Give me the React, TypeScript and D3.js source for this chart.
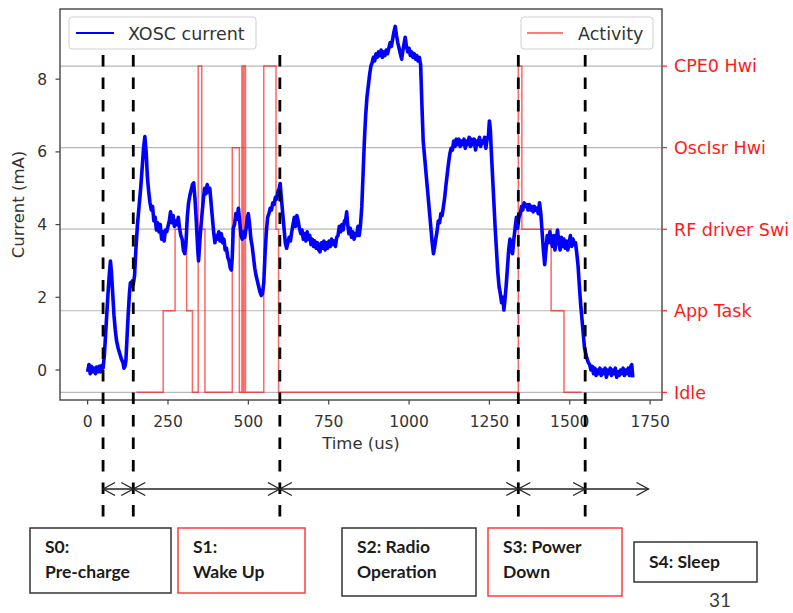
import * as d3 from 'd3';

// XOSC current trace, [time us, current mA]
const xoscTrace: [number, number][] = [
  [0, -0.05], [4, 0.15], [8, -0.1], [12, 0.1], [16, -0.05], [20, 0.05], [24, -0.1], [28, 0.08], [32, -0.05], [36, 0.1], [40, -0.05], [44, 0.12], [48, 0.05],
  [52, 0.4], [56, 1.0], [60, 1.6], [64, 2.2], [68, 2.7], [71, 3.0], [74, 2.7], [78, 2.1], [82, 1.5], [86, 1.1], [90, 0.8], [95, 0.6], [100, 0.45], [105, 0.3], [110, 0.2], [113, 0.05], [116, 0.1], [119, 0.25],
  [122, 0.8], [126, 1.5], [130, 2.1], [133, 2.4], [136, 2.3], [139, 2.45], [142, 2.35], [146, 2.6], [150, 3.3], [155, 4.0], [160, 4.5], [165, 5.0], [170, 5.6], [174, 6.1], [178, 6.42], [182, 6.0], [186, 5.3],
  [190, 4.9], [194, 4.6], [198, 4.4], [202, 4.5], [206, 4.1], [210, 4.2], [214, 3.85], [218, 4.05], [222, 3.8], [226, 4.0], [230, 3.6], [234, 3.8], [238, 3.55], [242, 3.85], [246, 3.8], [250, 3.95],
  [254, 4.1], [258, 4.35], [262, 4.05], [266, 4.25], [270, 3.95], [274, 4.1], [278, 4.0], [282, 4.2], [286, 3.9], [290, 3.7], [294, 3.6], [298, 3.3], [302, 3.2], [306, 3.5], [310, 4.2], [314, 4.6],
  [318, 4.8], [322, 4.95], [326, 5.1], [330, 5.15], [334, 4.7], [338, 4.1], [342, 3.4], [345, 3.0], [348, 3.4], [352, 3.9], [356, 4.3], [360, 4.7], [364, 5.0], [368, 4.85], [372, 5.1], [376, 4.9],
  [380, 5.0], [384, 4.6], [388, 4.2], [392, 3.8], [396, 3.5], [400, 3.7], [404, 3.6], [408, 3.8], [412, 3.55], [416, 3.75], [420, 3.5], [424, 3.6], [428, 3.3], [432, 3.35], [436, 3.1], [440, 3.0],
  [444, 2.8], [447, 2.75], [450, 3.1], [453, 3.9], [457, 4.0], [461, 4.3], [465, 4.15], [469, 4.45], [473, 4.1], [477, 3.7], [481, 3.6], [485, 3.8], [489, 3.65], [493, 3.9], [497, 4.2], [500, 4.3],
  [504, 4.0], [508, 3.6], [512, 3.4], [516, 3.1], [520, 2.8], [524, 2.6], [528, 2.45], [532, 2.3], [536, 2.15], [540, 2.05], [544, 2.1], [548, 2.4], [552, 3.2], [556, 3.8], [560, 4.2], [564, 4.3],
  [568, 4.45], [572, 4.4], [576, 4.6], [580, 4.55], [584, 4.75], [588, 4.7], [592, 4.9], [596, 5.0], [599, 5.13], [603, 4.7], [607, 4.3], [611, 3.9], [615, 3.5], [619, 3.35], [623, 3.5], [627, 3.65],
  [631, 3.55], [635, 3.8], [639, 4.0], [643, 4.2], [647, 3.95], [651, 4.25], [655, 4.1], [659, 3.9], [663, 3.75], [667, 3.85], [671, 3.6], [675, 3.75], [679, 3.55], [683, 3.8], [687, 3.6], [691, 3.7],
  [695, 3.45], [699, 3.6], [703, 3.4], [707, 3.55], [711, 3.35], [715, 3.5], [719, 3.3], [723, 3.25], [727, 3.5], [731, 3.35], [735, 3.55], [739, 3.3], [743, 3.5], [747, 3.35], [751, 3.55], [755, 3.4],
  [759, 3.6], [763, 3.45], [767, 3.55], [771, 3.4], [775, 3.65], [779, 3.7], [783, 3.95], [787, 3.8], [791, 4.0], [795, 3.85], [799, 4.1], [803, 4.15], [806, 4.35], [809, 4.0], [813, 3.75], [817, 3.9],
  [821, 3.65], [825, 3.8], [829, 3.6], [833, 3.75], [837, 3.7], [841, 3.95], [845, 3.7], [849, 4.0], [853, 4.5], [857, 5.4], [861, 6.3], [865, 7.0], [869, 7.5], [873, 7.8], [877, 8.1], [881, 8.35],
  [885, 8.45], [889, 8.6], [893, 8.5], [897, 8.7], [901, 8.6], [905, 8.75], [909, 8.65], [913, 8.8], [917, 8.6], [921, 8.75], [925, 8.65], [929, 8.8], [933, 8.7], [937, 8.85], [941, 9.0], [945, 8.9],
  [949, 9.1], [953, 9.3], [957, 9.45], [961, 9.2], [965, 9.0], [969, 8.85], [973, 8.7], [977, 8.55], [981, 8.8], [985, 9.0], [988, 9.15], [992, 8.9], [996, 8.75], [1000, 8.85], [1004, 8.65], [1008, 8.75],
  [1012, 8.6], [1016, 8.7], [1020, 8.55], [1024, 8.65], [1028, 8.5], [1032, 8.6], [1036, 8.4], [1040, 7.3], [1044, 6.3], [1048, 5.9], [1052, 5.5], [1056, 5.1], [1060, 4.7], [1064, 4.3], [1068, 3.9], [1072, 3.5],
  [1076, 3.2], [1079, 3.35], [1083, 3.6], [1087, 3.8], [1091, 4.1], [1095, 4.05], [1099, 4.3], [1103, 4.25], [1107, 4.5], [1111, 4.75], [1115, 5.1], [1119, 5.4], [1123, 5.7], [1127, 5.95], [1131, 6.1], [1135, 6.05],
  [1139, 6.3], [1143, 6.15], [1147, 6.35], [1151, 6.2], [1155, 6.35], [1159, 6.15], [1163, 6.3], [1167, 6.2], [1171, 6.35], [1175, 6.1], [1179, 6.3], [1183, 6.2], [1187, 6.4], [1191, 6.15], [1195, 6.35], [1199, 6.2],
  [1203, 6.35], [1207, 6.05], [1211, 6.3], [1215, 6.2], [1219, 6.4], [1223, 6.15], [1227, 6.3], [1231, 6.25], [1235, 6.4], [1239, 6.1], [1243, 6.35], [1247, 6.45], [1250, 6.85], [1253, 6.6], [1256, 6.0], [1260, 5.3],
  [1264, 4.6], [1268, 3.9], [1272, 3.3], [1276, 2.7], [1280, 2.3], [1284, 2.1], [1288, 1.85], [1292, 2.0], [1295, 1.65], [1298, 1.9], [1302, 2.3], [1306, 2.8], [1310, 3.3], [1314, 3.6], [1318, 3.3], [1322, 3.2],
  [1326, 3.6], [1330, 3.9], [1334, 4.2], [1338, 3.9], [1342, 4.2], [1346, 4.3], [1350, 4.5], [1354, 4.4], [1358, 4.6], [1362, 4.5], [1366, 4.55], [1370, 4.4], [1374, 4.55], [1378, 4.4], [1382, 4.5], [1386, 4.35],
  [1390, 4.5], [1394, 4.4], [1398, 4.45], [1402, 4.3], [1406, 4.6], [1410, 4.3], [1414, 3.8], [1418, 3.3], [1422, 2.9], [1426, 3.3], [1430, 3.7], [1434, 3.5], [1438, 3.8], [1442, 3.6], [1446, 3.4], [1450, 3.7],
  [1454, 3.3], [1458, 3.6], [1462, 3.85], [1466, 3.5], [1470, 3.3], [1474, 3.65], [1478, 3.4], [1482, 3.6], [1486, 3.35], [1490, 3.55], [1494, 3.3], [1498, 3.5], [1502, 3.7], [1506, 3.4], [1510, 3.6], [1514, 3.45],
  [1518, 3.5], [1522, 3.2], [1526, 2.85], [1530, 2.3], [1534, 1.8], [1538, 1.4], [1542, 1.0], [1546, 0.6], [1550, 0.45], [1554, 0.3], [1558, 0.2], [1562, 0.15], [1566, 0.0], [1570, 0.1], [1574, -0.1], [1578, 0.05],
  [1582, -0.15], [1586, 0.0], [1590, -0.1], [1594, 0.05], [1598, -0.15], [1602, 0.0], [1606, -0.1], [1610, 0.05], [1614, -0.2], [1618, 0.0], [1622, -0.1], [1626, 0.05], [1630, -0.15], [1634, 0.0], [1638, -0.1], [1642, 0.05],
  [1646, -0.2], [1650, -0.05], [1654, -0.15], [1658, 0.0], [1662, -0.1], [1666, 0.05], [1670, -0.15], [1674, 0.0], [1678, -0.1], [1682, 0.05], [1686, -0.15], [1690, 0.1], [1693, 0.15], [1696, -0.2],
];

// Activity step trace, [time us, level index]
const activitySteps: [number, number][] = [
  [152, 0], [235, 1], [272, 2], [308, 1], [326, 0], [344, 4], [355, 2], [365, 0], [450, 3], [472, 0],
  [480, 4], [484, 0], [486, 4], [491, 0], [548, 4], [586, 2], [594, 0], [1340, 4], [1351, 2], [1442, 1],
  [1482, 0], [1537, 0],
];

const activityLevels = ['Idle', 'App Task', 'RF driver Swi', 'OscIsr Hwi', 'CPE0 Hwi'];
const xTicks = [0, 250, 500, 750, 1000, 1250, 1500, 1750];
const yTicks = [0, 2, 4, 6, 8];

// state boundaries (us) and the phase boxes under the plot
const stateBounds = [48, 142, 598, 1340, 1548];
const sleepArrowEnd = 1745;
const stateNames = [
  ['S0:', 'Pre-charge'],
  ['S1:', 'Wake Up'],
  ['S2: Radio', 'Operation'],
  ['S3: Power', 'Down'],
  ['S4: Sleep'],
];
const stateOutline = ['#333', '#ff3b3b', '#333', '#ff3b3b', '#333'];

const W = 793;
const H = 613;
const plot = { left: 60, right: 662, top: 9, bottom: 400 };

const x = d3.scaleLinear().domain([-86, 1787]).range([plot.left, plot.right]);
const y = d3.scaleLinear().domain([-0.825, 9.93]).range([plot.bottom, plot.top]);
const yAct = d3.scaleLinear().domain([-0.094, 4.7]).range([plot.bottom, plot.top]);

const tickFont = 'DejaVu Sans, sans-serif';
const boxFont = 'Lato, Open Sans, sans-serif';

// box geometry (pixels) for each state label
const boxes = [
  { x0: 30, x1: 171, y0: 528, y1: 593 },
  { x0: 178, x1: 305, y0: 528, y1: 593 },
  { x0: 342, x1: 476, y0: 528, y1: 596 },
  { x0: 488, x1: 622, y0: 528, y1: 596 },
  { x0: 634, x1: 757, y0: 542, y1: 582 },
];

const Chevron = ({ tipX, tipY, dir }: { tipX: number; tipY: number; dir: 1 | -1 }) => (
  <path
    d={`M${tipX - dir * 12},${tipY - 6.5} L${tipX},${tipY} L${tipX - dir * 12},${tipY + 6.5}`}
    fill="none"
    stroke="#222"
    strokeWidth={1.3}
  />
);

export default function App() {
  const currentLine = d3.line<[number, number]>()
    .x(d => x(d[0]))
    .y(d => y(d[1]));

  const activityLine = d3.line<[number, number]>()
    .curve(d3.curveStepAfter)
    .x(d => x(d[0]))
    .y(d => yAct(d[1]));

  const arrowY = 489;
  const bx = stateBounds.map(b => x(b));

  return (
    <svg
      width={W}
      height={H}
      style={{ position: 'absolute', left: 0, top: 0, background: '#fff' }}
    >
      {/* grid from the activity axis */}
      {activityLevels.map((_, i) => (
        <line key={i} x1={plot.left} x2={plot.right} y1={yAct(i)} y2={yAct(i)} stroke="#b8b8b8" strokeWidth={1.2} />
      ))}

      <path d={activityLine(activitySteps) ?? ''} fill="none" stroke="#ff0000" strokeOpacity={0.6} strokeWidth={1.5} />
      <path d={currentLine(xoscTrace) ?? ''} fill="none" stroke="#0000ff" strokeWidth={3.6} strokeLinejoin="round" />

      {/* spines */}
      <rect x={plot.left} y={plot.top} width={plot.right - plot.left} height={plot.bottom - plot.top} fill="none" stroke="#444" strokeWidth={1.4} />

      {/* left axis */}
      {yTicks.map(t => (
        <g key={t}>
          <line x1={plot.left - 4.5} x2={plot.left} y1={y(t)} y2={y(t)} stroke="#444" strokeWidth={1.2} />
          <text x={plot.left - 13} y={y(t)} dy="0.36em" textAnchor="end" fontFamily={tickFont} fontSize={15.5} fill="#333">{t}</text>
        </g>
      ))}
      <text
        transform={`translate(24,${(plot.top + plot.bottom) / 2}) rotate(-90)`}
        textAnchor="middle"
        fontFamily={tickFont}
        fontSize={16.5}
        fill="#333"
      >
        Current (mA)
      </text>

      {/* bottom axis */}
      {xTicks.map(t => (
        <g key={t}>
          <line x1={x(t)} x2={x(t)} y1={plot.bottom} y2={plot.bottom + 4.5} stroke="#444" strokeWidth={1.2} />
          <text x={x(t)} y={427} textAnchor="middle" fontFamily={tickFont} fontSize={15.5} fill="#333">{t}</text>
        </g>
      ))}
      <text x={(plot.left + plot.right) / 2} y={449} textAnchor="middle" fontFamily={tickFont} fontSize={16.5} fill="#333">
        Time (us)
      </text>

      {/* right axis: activity levels */}
      {activityLevels.map((name, i) => (
        <g key={name}>
          <line x1={plot.right} x2={plot.right + 5} y1={yAct(i)} y2={yAct(i)} stroke="#ff2020" strokeWidth={1.2} />
          <text x={plot.right + 12} y={yAct(i)} dy="0.36em" fontFamily={tickFont} fontSize={17.5} fill="#ff1a1a">{name}</text>
        </g>
      ))}

      {/* legends */}
      <g>
        <rect x={69} y={17} width={187} height={32} rx={3} fill="#fff" fillOpacity={0.85} stroke="#d0d0d0" />
        <line x1={76} x2={114} y1={33} y2={33} stroke="#0000ff" strokeWidth={2} />
        <text x={128} y={39.5} fontFamily={tickFont} fontSize={17.5} fill="#333">XOSC current</text>
      </g>
      <g>
        <rect x={521} y={17} width={132} height={32} rx={3} fill="#fff" fillOpacity={0.85} stroke="#d0d0d0" />
        <line x1={527} x2={563} y1={33} y2={33} stroke="#ff0000" strokeOpacity={0.7} strokeWidth={1.5} />
        <text x={578} y={39.5} fontFamily={tickFont} fontSize={17.5} fill="#333">Activity</text>
      </g>

      {/* state boundaries */}
      {bx.map((px, i) => (
        <line key={i} x1={px} x2={px} y1={55} y2={517} stroke="#000" strokeWidth={2.8} strokeDasharray="11.5,11" />
      ))}

      {/* state duration arrows */}
      <line x1={bx[0]} x2={x(sleepArrowEnd)} y1={arrowY} y2={arrowY} stroke="#222" strokeWidth={1.3} />
      {bx.slice(0, -1).map((px, i) => (
        <g key={i}>
          <Chevron tipX={px} tipY={arrowY} dir={-1} />
          <Chevron tipX={bx[i + 1]} tipY={arrowY} dir={1} />
        </g>
      ))}
      <Chevron tipX={x(sleepArrowEnd)} tipY={arrowY} dir={1} />

      {/* state boxes */}
      {boxes.map((b, i) => {
        const lines = stateNames[i];
        const firstY = lines.length === 1 ? (b.y0 + b.y1) / 2 + 6 : 553;
        return (
          <g key={i}>
            <rect x={b.x0} y={b.y0} width={b.x1 - b.x0} height={b.y1 - b.y0} fill="#fff" stroke={stateOutline[i]} strokeWidth={1.5} />
            {lines.map((ln, j) => (
              <text key={j} x={b.x0 + 15} y={firstY + j * 25} fontFamily={boxFont} fontWeight={700} fontSize={17.5} fill="#1c1c1c">
                {ln}
              </text>
            ))}
          </g>
        );
      })}

      <text x={720} y={607} textAnchor="middle" fontFamily={boxFont} fontSize={19} fill="#3a3a3a">31</text>
    </svg>
  );
}
